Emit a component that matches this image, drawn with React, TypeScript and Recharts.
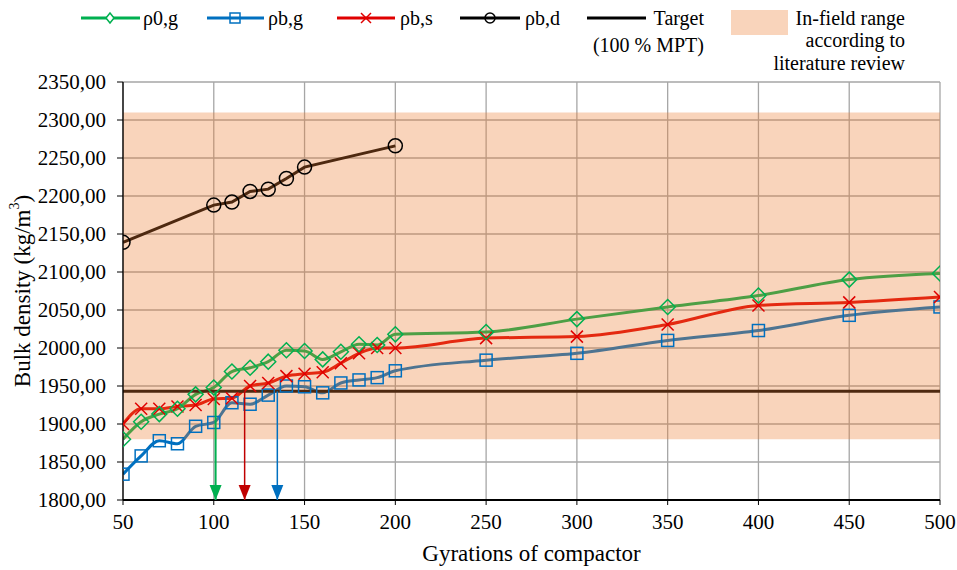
import React from 'react';
import { LineChart, Line, XAxis, YAxis, CartesianGrid, ReferenceArea, ReferenceLine } from 'recharts';

// ---- data ----
const gyrations = [50, 60, 70, 80, 90, 100, 110, 120, 130, 140, 150, 160, 170, 180, 190, 200, 250, 300, 350, 400, 450, 500];
const rho0g = [1880, 1903, 1913, 1920, 1939, 1948, 1969, 1974, 1982, 1997, 1996, 1985, 1995, 2005, 2004, 2018, 2021, 2038, 2054, 2069, 2090, 2098];
const rhobg = [1834, 1858, 1878, 1874, 1897, 1902, 1928, 1926, 1938, 1950, 1949, 1941, 1954, 1958, 1961, 1970, 1984, 1993, 2010, 2023, 2043, 2054];
const rhobs = [1900, 1920, 1920, 1923, 1925, 1933, 1934, 1950, 1954, 1963, 1966, 1968, 1980, 1993, 2000, 2000, 2013, 2015, 2031, 2056, 2060, 2067];
const gyrationsD = [50, 100, 110, 120, 130, 140, 150, 200];
const rhobd = [2139, 2188, 2192, 2206, 2209, 2223, 2238, 2266];
const targetMPT = 1943;
const infieldLow = 1880;
const infieldHigh = 2310;
const arrowGyrations = [101, 117, 135];
const axisMin = 1800;
const xTicks = [50, 100, 150, 200, 250, 300, 350, 400, 450, 500];
const yTicks = [1800, 1850, 1900, 1950, 2000, 2050, 2100, 2150, 2200, 2250, 2300, 2350];

const FONT = "'Liberation Serif', 'Times New Roman', serif";
const GREEN = '#00b050';
const BLUE = '#0070c0';
const RED = '#e00000';
const BAND = '#ED7D31';

const toRows = (xs: number[], ys: number[]) => xs.map((g, i) => ({ g, v: ys[i] }));
const greenRows = toRows(gyrations, rho0g);
const blueRows = toRows(gyrations, rhobg);
const redRows = toRows(gyrations, rhobs);
const darkRows = toRows(gyrationsD, rhobd);
const arrowRows = arrowGyrations.map((g) => [
  { g, v: targetMPT },
  { g, v: axisMin },
]);
const arrowColors = [GREEN, '#c00000', BLUE];

const diamondDot = (p: any) => {
  const { cx, cy, key } = p;
  const s = 7.5;
  return (
    <polygon key={key} points={`${cx},${cy - s} ${cx + s},${cy} ${cx},${cy + s} ${cx - s},${cy}`} fill="none" stroke={GREEN} strokeWidth={1.5} />
  );
};
const squareDot = (p: any) => {
  const { cx, cy, key } = p;
  const s = 6;
  return <rect key={key} x={cx - s} y={cy - s} width={2 * s} height={2 * s} fill="none" stroke={BLUE} strokeWidth={1.5} />;
};
const crossDot = (p: any) => {
  const { cx, cy, key } = p;
  const s = 6;
  return (
    <g key={key} stroke={RED} strokeWidth={1.5}>
      <line x1={cx - s} y1={cy - s} x2={cx + s} y2={cy + s} />
      <line x1={cx - s} y1={cy + s} x2={cx + s} y2={cy - s} />
    </g>
  );
};
const circleDot = (p: any) => {
  const { cx, cy, key } = p;
  return <circle key={key} cx={cx} cy={cy} r={7} fill="none" stroke="#000" strokeWidth={1.5} />;
};
const arrowDot = (color: string) => (p: any) => {
  const { cx, cy, key, index } = p;
  if (index !== 1) return <g key={key} />;
  return <polygon key={key} points={`${cx - 6},${cy - 15} ${cx + 6},${cy - 15} ${cx},${cy}`} fill={color} />;
};

const fmtY = (v: number) => v.toFixed(2).replace('.', ',');

const YTitle = (props: any) => {
  const vb = props.viewBox || { x: 0, y: 0, width: 0, height: 0 };
  const x = vb.x + 22;
  const y = vb.y + vb.height / 2;
  return (
    <text x={x} y={y} transform={`rotate(-90 ${x} ${y})`} textAnchor="middle" dominantBaseline="central" fontFamily={FONT} fontSize={23} fill="#000">
      Bulk density (kg/m<tspan dy={-8} fontSize={14}>3</tspan>
      <tspan dy={8}>)</tspan>
    </text>
  );
};

const Legend = () => (
  <svg width={957} height={80} style={{ position: 'absolute', left: 0, top: 0 }} fontFamily={FONT} fontSize={20}>
    <line x1={81} y1={18} x2={140} y2={18} stroke={GREEN} strokeWidth={3} />
    <polygon points="110,13 114,18 110,23 106,18" fill="#fff" stroke={GREEN} strokeWidth={1.5} />
    <text x={143} y={25}>ρ0,g</text>
    <line x1={207} y1={18} x2={264} y2={18} stroke={BLUE} strokeWidth={3} />
    <rect x={230} y={13} width={10} height={10} fill="none" stroke={BLUE} strokeWidth={1.5} />
    <text x={268} y={25}>ρb,g</text>
    <line x1={337} y1={18} x2={395} y2={18} stroke={RED} strokeWidth={3} />
    <line x1={361} y1={13} x2={371} y2={23} stroke={RED} strokeWidth={1.5} />
    <line x1={361} y1={23} x2={371} y2={13} stroke={RED} strokeWidth={1.5} />
    <text x={400} y={25}>ρb,s</text>
    <line x1={460} y1={18} x2={520} y2={18} stroke="#000" strokeWidth={3} />
    <circle cx={490} cy={18} r={5} fill="none" stroke="#000" strokeWidth={1.5} />
    <text x={525} y={25}>ρb,d</text>
    <line x1={587} y1={18} x2={646} y2={18} stroke="#000" strokeWidth={3} />
    <text x={704} y={25} textAnchor="end">Target</text>
    <text x={704} y={52} textAnchor="end">(100 % MPT)</text>
    <rect x={731} y={10} width={57} height={25} fill={BAND} fillOpacity={0.33} />
    <text x={905} y={25} textAnchor="end">In-field range</text>
    <text x={905} y={47} textAnchor="end">according to</text>
    <text x={905} y={70} textAnchor="end">literature review</text>
  </svg>
);

export default function App() {
  return (
    <div style={{ position: 'absolute', left: 0, top: 0, width: 957, height: 570, background: '#fff' }}>
      <LineChart width={957} height={570} margin={{ top: 82, right: 17, bottom: 0, left: 0 }}>
        <CartesianGrid stroke="#a6a6a6" strokeWidth={1.3} />
        <XAxis
          type="number"
          dataKey="g"
          domain={[50, 500]}
          ticks={xTicks}
          allowDataOverflow
          height={70}
          tickSize={5}
          tickMargin={9}
          axisLine={{ stroke: '#000', strokeWidth: 2 }}
          tickLine={{ stroke: '#000' }}
          tick={{ fontFamily: FONT, fontSize: 21, fill: '#000' }}
          label={{ value: 'Gyrations of compactor', position: 'insideBottom', offset: 9, fontFamily: FONT, fontSize: 23, fill: '#000' }}
        />
        <YAxis
          type="number"
          domain={[1800, 2350]}
          ticks={yTicks}
          allowDataOverflow
          width={123}
          tickSize={6}
          tickMargin={11}
          tickFormatter={fmtY}
          axisLine={{ stroke: '#000', strokeWidth: 1.3 }}
          tickLine={{ stroke: '#000' }}
          tick={{ fontFamily: FONT, fontSize: 21, fill: '#000' }}
          label={{ content: YTitle }}
        />
        <Line data={darkRows} dataKey="v" type="linear" stroke="#000" strokeWidth={3} dot={circleDot} isAnimationActive={false} />
        <Line data={blueRows} dataKey="v" type="monotone" stroke={BLUE} strokeWidth={3} dot={squareDot} isAnimationActive={false} />
        <Line data={redRows} dataKey="v" type="monotone" stroke={RED} strokeWidth={3} dot={crossDot} isAnimationActive={false} />
        <Line data={greenRows} dataKey="v" type="monotone" stroke={GREEN} strokeWidth={3} dot={diamondDot} isAnimationActive={false} />
        <ReferenceLine y={targetMPT} stroke="#000" strokeWidth={3} zIndex={420} />
        <ReferenceArea x1={50} x2={500} y1={infieldLow} y2={infieldHigh} fill={BAND} fillOpacity={0.33} stroke="none" zIndex={450} />
        {arrowRows.map((rows, i) => (
          <Line
            key={i}
            data={rows}
            dataKey="v"
            type="linear"
            stroke={arrowColors[i]}
            strokeWidth={i === 0 ? 2 : 1.5}
            dot={arrowDot(arrowColors[i])}
            isAnimationActive={false}
            zIndex={600}
          />
        ))}
      </LineChart>
      <Legend />
    </div>
  );
}
